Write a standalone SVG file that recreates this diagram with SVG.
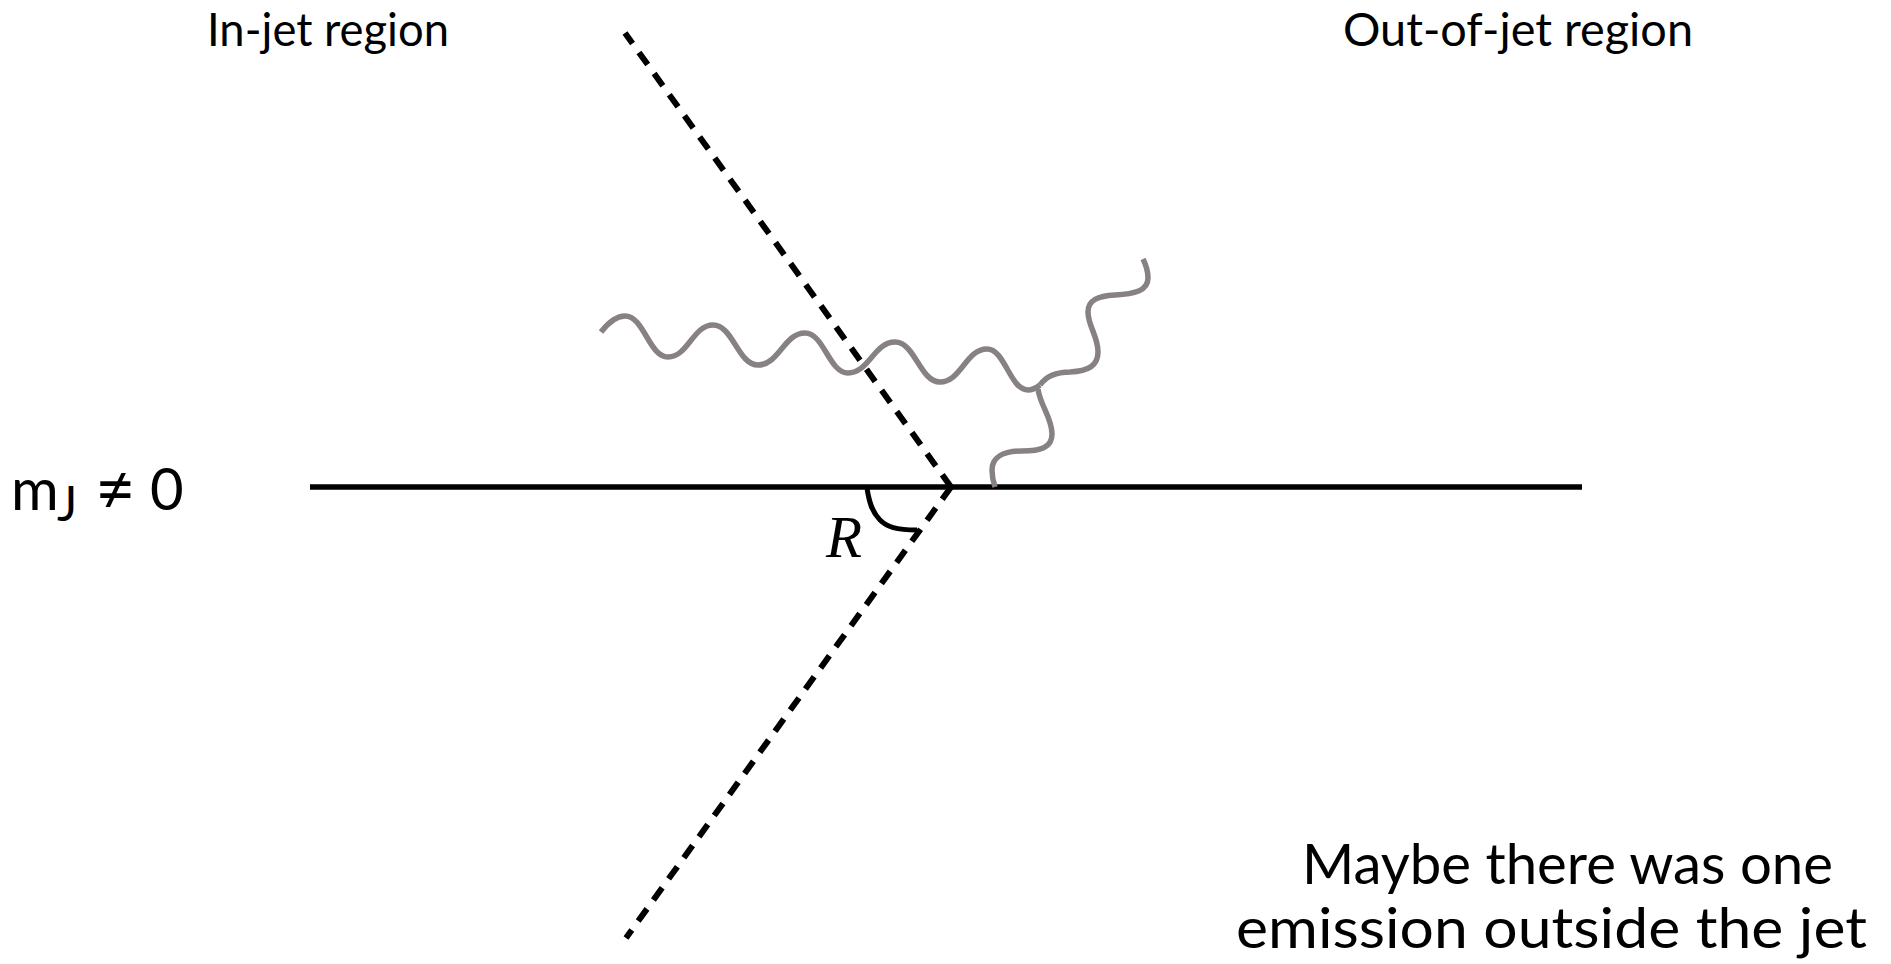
<svg xmlns="http://www.w3.org/2000/svg" width="1891" height="964" viewBox="0 0 1891 964">
<style>
.lbl{font-family:Lato,"Open Sans","Liberation Sans",sans-serif;fill:#000}
.dash{stroke:#000;stroke-width:6;stroke-dasharray:15 11;fill:none}
.gl{stroke:#878183;stroke-width:5.5;fill:none;stroke-linecap:butt;stroke-linejoin:round}
</style>
<rect width="1891" height="964" fill="#fff"/>
<g id="labels">
<text id="in-jet" class="lbl" x="207" y="46" font-size="46" textLength="242" lengthAdjust="spacingAndGlyphs">In-jet region</text>
<text id="out-of-jet" class="lbl" x="1343" y="46" font-size="46" textLength="350" lengthAdjust="spacingAndGlyphs">Out-of-jet region</text>
<g id="mass" class="lbl">
<text x="11" y="510" font-size="58">m</text>
<text x="57" y="521" font-size="48">J</text>
<text x="95" y="513" font-size="70">≠</text>
<text x="150" y="510" font-size="58">0</text>
</g>
<text id="note1" class="lbl" x="1302" y="884" font-size="56" textLength="531" lengthAdjust="spacingAndGlyphs">Maybe there was one</text>
<text id="note2" class="lbl" x="1236" y="948" font-size="56" textLength="631" lengthAdjust="spacingAndGlyphs">emission outside the jet</text>
<text id="R" x="826" y="557" font-family="'Liberation Serif',serif" font-style="italic" font-size="59">R</text>
</g>
<g id="connectors">
<line id="jet-axis" x1="310" y1="487" x2="1582" y2="487" stroke="#000" stroke-width="5.5"/>
<path id="jet-boundary-top" class="dash" d="M951,487 L625,33"/>
<path id="jet-boundary-bottom" class="dash" d="M951,487 L626,938"/>
<path id="angle-R" d="M867,488 C869,502 872,512 880,520 C887,527 896,530 917,530" stroke="#000" stroke-width="5" fill="none"/>
<path id="gluon-main" class="gl" d="M601,332 C608,323 616,316 625,316 C644,316 649,357 668,357 C688,357 693,325 713,325 C733,325 738,365 758,365 C779,365 784,333 805,333 C824,333 829,373 848,373 C869,373 874,342 895,342 C915,342 920,382 940,382 C961,382 966,349 987,349 C1005,349 1010,390 1028,390 C1033,390 1036,388 1040,385"/>
<path id="gluon-up" class="gl" d="M1040,385 C1047,375 1057,372 1070,372 C1088,371 1098,366 1098,352 C1098,336 1088,326 1088,312 C1088,300 1098,296 1115,295 C1134,294 1148,291 1148,278 C1148,271 1146,265 1143,259"/>
<path id="gluon-down" class="gl" d="M1038,389 C1040,405 1052,418 1052,434 C1052,448 1040,451 1022,451 C1002,451 992,458 992,470 C992,476 993,481 995,487"/>
</g>
</svg>
